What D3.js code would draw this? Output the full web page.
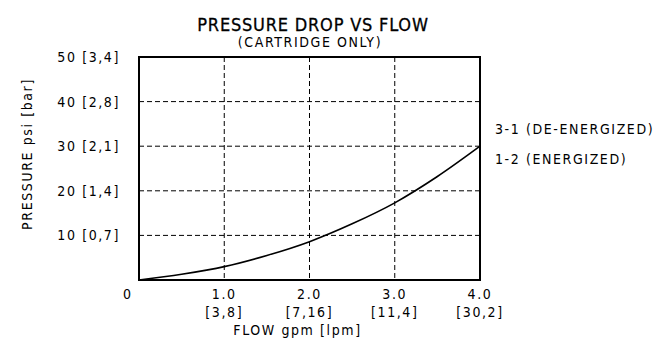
<!DOCTYPE html>
<html>
<head>
<meta charset="utf-8">
<script src="https://cdn.jsdelivr.net/npm/d3@7"></script>
<style>
  body { margin: 0; background: #fff; }
  svg text { font-family: "Liberation Sans Narrow", "DejaVu Sans Condensed", sans-serif; fill: #000; }
</style>
</head>
<body>
<div id="chart"></div>
<script>
// ── Data ────────────────────────────────────────────────────────────────
const flowGpm   = [0, 0.5, 1, 1.5, 2, 2.5, 3, 3.5, 4];
const pressPsi  = [0, 1.3, 3.0, 5.5, 8.6, 12.6, 17.3, 23.2, 30];

const xTicks    = [1, 2, 3, 4];
const xTickLpm  = ['[3,8]', '[7,16]', '[11,4]', '[30,2]'];
const yTicks    = [10, 20, 30, 40, 50];
const yTickBar  = ['[0,7]', '[1,4]', '[2,1]', '[2,8]', '[3,4]'];
const legend    = ['3-1 (DE-ENERGIZED)', '1-2 (ENERGIZED)'];

const W = 666, H = 353;
const M = { top: 57, right: 186, bottom: 73, left: 139 };
const iw = W - M.left - M.right;
const ih = H - M.top - M.bottom;

const x = d3.scaleLinear().domain([0, 4]).range([0, iw]);
const y = d3.scaleLinear().domain([0, 50]).range([ih, 0]);

const svg = d3.select('#chart').append('svg').attr('width', W).attr('height', H);
const g = svg.append('g').attr('transform', `translate(${M.left},${M.top})`);

// ── Title ────────────────────────────────────────────────────────────────
svg.append('text').attr('x', 313).attr('y', 31)
  .attr('text-anchor', 'middle').attr('font-size', 18).attr('letter-spacing', 0.8)
  .attr('stroke', '#000').attr('stroke-width', 0.3)
  .text('PRESSURE DROP VS FLOW');
svg.append('text').attr('x', 310).attr('y', 47)
  .attr('text-anchor', 'middle').attr('font-size', 14).attr('letter-spacing', 1.6)
  .text('(CARTRIDGE ONLY)');

// ── Grid ─────────────────────────────────────────────────────────────────
g.selectAll('.gx').data(xTicks.slice(0, -1)).join('line')
  .attr('x1', d => x(d)).attr('x2', d => x(d))
  .attr('y1', 0).attr('y2', ih)
  .attr('stroke', '#000').attr('stroke-width', 1).attr('stroke-dasharray', '5,3');
g.selectAll('.gy').data(yTicks.slice(0, -1)).join('line')
  .attr('y1', d => y(d)).attr('y2', d => y(d))
  .attr('x1', 0).attr('x2', iw)
  .attr('stroke', '#000').attr('stroke-width', 1).attr('stroke-dasharray', '5,3');

// ── Curve ────────────────────────────────────────────────────────────────
const pts = flowGpm.map((f, i) => [f, pressPsi[i]]);
g.append('path').datum(pts)
  .attr('d', d3.line().x(d => x(d[0])).y(d => y(d[1])).curve(d3.curveMonotoneX))
  .attr('fill', 'none').attr('stroke', '#000').attr('stroke-width', 1.6);

// ── Frame ────────────────────────────────────────────────────────────────
g.append('rect').attr('width', iw).attr('height', ih)
  .attr('fill', 'none').attr('stroke', '#000').attr('stroke-width', 2);

// ── Axis labels ──────────────────────────────────────────────────────────
const fs = 14, ls = 1.6;
g.selectAll('.yl').data(yTicks).join('text')
  .attr('x', -19).attr('y', d => y(d) + 5)
  .attr('text-anchor', 'end').attr('font-size', fs).attr('letter-spacing', ls)
  .text((d, i) => `${d} ${yTickBar[i]}`);

g.append('text').attr('x', -12).attr('y', ih + 19)
  .attr('text-anchor', 'middle').attr('font-size', fs).text('0');

g.selectAll('.xl').data(xTicks).join('text')
  .attr('x', d => x(d)).attr('y', ih + 19)
  .attr('text-anchor', 'middle').attr('font-size', fs).attr('letter-spacing', ls)
  .text(d => d.toFixed(1));
g.selectAll('.xl2').data(xTicks).join('text')
  .attr('x', d => x(d)).attr('y', ih + 37)
  .attr('text-anchor', 'middle').attr('font-size', fs).attr('letter-spacing', ls)
  .text((d, i) => xTickLpm[i]);

g.append('text').attr('x', iw / 2 - 12).attr('y', ih + 55)
  .attr('text-anchor', 'middle').attr('font-size', fs).attr('letter-spacing', ls)
  .text('FLOW gpm [lpm]');

svg.append('text')
  .attr('transform', 'translate(32,154) rotate(-90)')
  .attr('text-anchor', 'middle').attr('font-size', fs).attr('letter-spacing', ls)
  .text('PRESSURE psi [bar]');

// ── Legend ───────────────────────────────────────────────────────────────
svg.selectAll('.lg').data(legend).join('text')
  .attr('x', 495).attr('y', (d, i) => 134 + i * 30)
  .attr('font-size', fs).attr('letter-spacing', ls)
  .text(d => d);
</script>
</body>
</html>
